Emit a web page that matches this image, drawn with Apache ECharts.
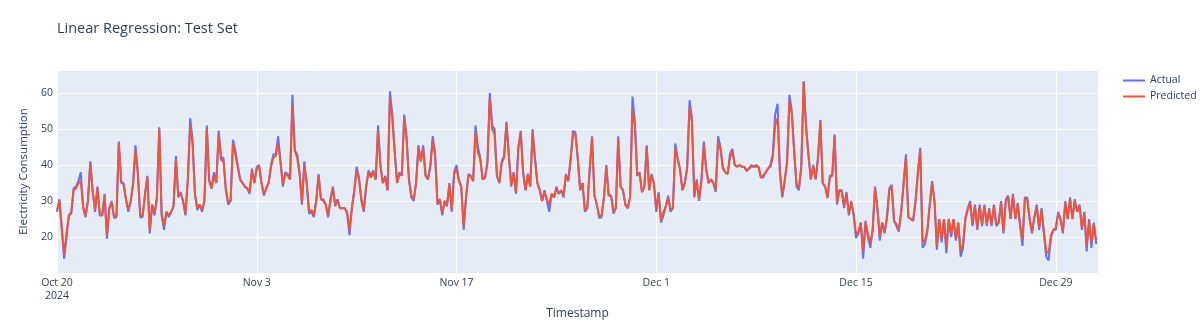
<!DOCTYPE html>
<html><head><meta charset="utf-8">
<script src="https://cdn.jsdelivr.net/npm/echarts@6/dist/echarts.min.js"></script>
<style>html,body{margin:0;padding:0;background:#fff}#c{width:1200px;height:330px}</style>
</head><body><div id="c"></div>
<script>
// Time axis: days since 2024-10-20 00:00, one value every 4 hours
const STEP_HOURS = 4;
const X_MAX_DAYS = 72.96; // 2024-12-31 23:00
const tickLabels = ['Oct 20\n2024', 'Nov 3', 'Nov 17', 'Dec 1', 'Dec 15', 'Dec 29'];

const actual = [
  27,30.5,22,14,20,26,  26.5,33.5,34,35.5,38,28,  25.5,30,41,33,27,34,  26,26,32,19.5,28,30,
  25.3,25.5,46.5,35,35,30.5,  27,30,35,45.5,38,25.5,  25.5,32,37,21,29,26,  31,50.5,26,22,27,25.5,
  27,28.5,42.5,31,32.5,30,  26,36,53,47,32,27.5,  29,27,30,51,36,33.5,  38,35,49.5,42,42,33,
  29,30,47,44,40,36,  35,34,33.5,32,39,35,  39.5,40,35,31.5,33.5,35,  40,43,43,48,41,34,
  38,37.5,36,59.5,44,43,  38,29,41,35,26.5,27,  25.5,30,37.5,30.5,30.5,29,  25.5,30.5,34,28.5,30.5,28,
  28,28,26.5,20.5,28,33,  39.5,36.5,30,27,34,38.5,  37,38.5,36,51,40,35,  37,33,60.5,54,44,35,
  38,37,54,48,36,31,  30,35,45.5,41,45.5,37,  36,40,48,43,29,30.5,  26,30,28.5,35,27,38,
  40,36,34,22,31,37.5,  37,35.5,51,45,42,36,  36.5,41,60,51,50,37,  35,41,42.5,52,43,34,
  38,32,45,49.5,38,33,  37.5,34,50,42,35,33,  30,33,30,27,32,31,  34,32,33,31,37.5,35.5,
  42,49.5,49,42,33,35,  27,28,39,48,31.5,29,  25.3,25.5,31,40,31.5,31.5,  26.5,28,48,34,33,29,
  28,31,59,52,37,38,  32.5,34,45.5,33,37.5,35,  27,32.5,24,26,28.5,31.5,  27,28,46,42,39,33,
  35,39.5,58,53,31,36,  30,36,46.5,39,35,36,  35,32.5,48,45,39.5,38,  37.5,43,44.5,40,39.5,40,
  39.5,39.5,38.3,39,40,39.5,  40,39.5,36.5,36.5,38,39,  40,43,54,57,38,31,  35.5,41,59.5,55,44,34,
  33,40,63.3,51,43,36,  40,36,42,52.5,35,34,  30.8,37,37.3,48.5,29,33,  33,28,32.5,26,30,26,
  19.7,21,24,14,24.5,20,  17,22,34,28,19,24,  21,25.5,33.5,34.5,24.5,23,  21.5,27,35,43,25.5,25,
  24.5,30,38,44.8,17,18,  21.5,29,35.5,30,16.5,25,  18.5,25,15.5,25,20,25,  19,24,14.5,17,25.3,28,
  30,23,29,22,29,23,  29,23,28,23,29,23,  24,30,21,30.5,31.5,25,  32,25,29.5,23,17.5,31,
  31,25,21,25.5,29,22,  28,21,14.5,13.5,20,22,  22,27,25,21,30,25,  31,25,30.5,27,29,22,
  27,16,25,17,24,18
];

const predicted = [
  27.5,30,23,15,21,26,  27,33,33.5,35,35.5,28.5,  26,30,40.5,32.5,27.5,33.5,  26.5,26,31.5,20.5,28,29.5,
  25.5,26,46,35.5,34.5,30.5,  27.5,30,34.5,44,37.5,26,  26,31.5,36.5,22,29,26.5,  30.5,50,26.5,23,27,26,
  27,28.5,41.5,31.5,32,30,  26.5,35.5,51,46,32,28,  29,27.5,30,50,35.5,33.5,  37,35,48.5,41.5,41,33.5,
  29.5,30,46,43,39.5,36,  35,34,33.5,32.5,38.5,35,  39,39.5,35,32,33.5,35,  39.5,42,42.5,46,40.5,34.5,
  37.5,37,36,56.5,44,42,  37.5,29.5,40,35,27,27.5,  26,30,37,30.5,30,29,  26,30,33.5,29,30,28,
  28,28,27,22,28,32.5,  38.5,36,30.5,27.5,34,38,  36.5,38,36,49.5,40,35,  36.5,33,58.5,53,43.5,35,
  37.5,37,53,47,36,31.5,  30.5,35,45,41,44.5,37,  36,39.5,47,42.5,29.5,30.5,  26.5,30,29,34.5,27.5,37.5,
  39,35.5,34,23,31,37,  37,35.5,49,43.5,41.5,36,  36.5,40.5,58.5,50,48.5,37,  35,40.5,42,51.5,42.5,34.5,
  37.5,32.5,44.5,49,38,33,  37,34,49,41.5,35,33,  30,32.5,30.5,29,32,31,  33.5,32,33,31.5,37,35.5,
  41.5,48.5,48.5,41.5,33,35,  27.5,28,38.5,47.5,31.5,29,  25.8,26,31,39.5,31.5,31.5,  27,28,47,34,33,29,
  28,31,55.5,51,37,37.5,  32.5,34,45,33,37,35,  27.5,32,24.5,27,28.5,31,  27.5,28,44.5,41.5,38.5,33,
  35,39,56,52,31.5,35.5,  30.5,35.5,45.5,38.5,35,36,  35,33,46.5,44.5,39,38,  37.5,42,44,40,39.5,40,
  39.5,39.5,38.5,39,39.5,39.5,  39.5,39.5,36.5,37,38,39,  39.5,42,51,53,38,31.5,  35.5,40.5,57.5,54,43.5,34.5,
  33.5,39.5,63,50,42.5,36,  39.5,36,41.5,52,35,34,  31,36.5,37,48,29.5,33,  32.5,28.5,32,26.5,29.5,26.5,
  20.5,21.5,24,16,24,21,  18,22,33.5,28,20,24,  21.5,25,33,34,24.5,23.5,  22,27,34.5,42,25.5,25,
  24.5,29.5,37.5,44,18.5,19,  22,29,35,30,17.5,25,  19.5,25,17,25,21,25,  19.5,24,16,18,25,27.5,
  29.5,23.5,28.5,22.5,28.5,23.5,  28.5,23.5,27.5,23.5,28.5,23.5,  24,29.5,21.5,30,31,25,  31.5,25,29,23.5,19,30.5,
  30.5,25,21.5,25.5,28.5,22.5,  27.5,21.5,16,15.5,20.5,22,  22.5,26.5,25,21.5,29.5,25,  30.5,25,30,27,28.5,22.5,
  26.5,17.5,24.5,18.5,23.5,19
];

const xDays = actual.map((_, i) => i * STEP_HOURS / 24);
const actualData = actual.map((v, i) => [xDays[i], v]);
const predictedData = predicted.map((v, i) => [xDays[i], v]);

const FONT = '"Open Sans", verdana, arial, sans-serif';
const TXT = '#2a3f5f';
const chart = echarts.init(document.getElementById('c'), null, {renderer: 'canvas'});
chart.setOption({
  animation: false,
  backgroundColor: '#ffffff',
  textStyle: {fontFamily: FONT, color: TXT},
  title: {
    text: 'Linear Regression: Test Set',
    left: 57, top: 21, padding: 0,
    textStyle: {fontFamily: FONT, fontSize: 14.5, fontWeight: 'normal', color: TXT}
  },
  legend: {
    orient: 'vertical', left: 1123, top: 75, padding: 0,
    icon: 'rect', itemWidth: 22, itemHeight: 2, itemGap: 5,
    textStyle: {fontFamily: FONT, fontSize: 10.5, color: TXT},
    data: ['Actual', 'Predicted']
  },
  grid: {
    left: 57, right: 102, top: 70, bottom: 57,
    show: true, backgroundColor: '#E5ECF6', borderWidth: 0, containLabel: false
  },
  xAxis: {
    type: 'value', min: 0, max: X_MAX_DAYS, interval: 14,
    name: 'Timestamp', nameLocation: 'middle', nameGap: 29,
    nameTextStyle: {fontFamily: FONT, fontSize: 12, color: TXT},
    axisLine: {show: false}, axisTick: {show: false},
    axisLabel: {
      margin: 4, fontFamily: FONT, fontSize: 10.5, color: TXT, lineHeight: 13,
      showMaxLabel: false,
      formatter: function (v) {
        const k = Math.round(v / 14);
        return Math.abs(v - k * 14) < 1e-6 && tickLabels[k] ? tickLabels[k] : '';
      }
    },
    splitLine: {show: true, lineStyle: {color: '#ffffff', width: 1}}
  },
  yAxis: {
    type: 'value', min: 10, max: 66.4, interval: 10,
    name: 'Electricity Consumption', nameLocation: 'middle', nameGap: 22,
    nameTextStyle: {fontFamily: FONT, fontSize: 11.5, color: TXT},
    axisLine: {show: false}, axisTick: {show: false},
    axisLabel: {
      margin: 4, fontFamily: FONT, fontSize: 10.5, color: TXT,
      showMinLabel: false, showMaxLabel: false
    },
    splitLine: {show: true, lineStyle: {color: '#ffffff', width: 1}}
  },
  series: [
    {name: 'Actual', type: 'line', data: actualData, showSymbol: false, symbol: 'none',
     lineStyle: {color: '#636efa', width: 2}, itemStyle: {color: '#636efa'}},
    {name: 'Predicted', type: 'line', data: predictedData, showSymbol: false, symbol: 'none',
     lineStyle: {color: '#EF553B', width: 2}, itemStyle: {color: '#EF553B'}}
  ]
});
</script>
</body></html>
